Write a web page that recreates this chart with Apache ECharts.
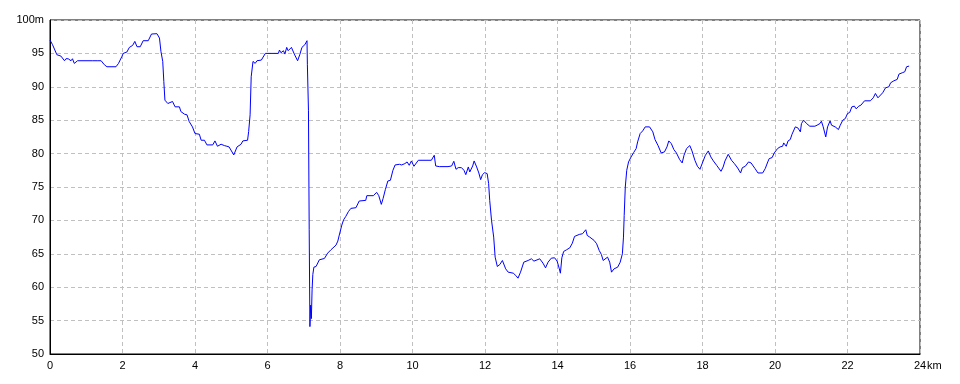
<!DOCTYPE html>
<html>
<head>
<meta charset="utf-8">
<script src="https://cdn.jsdelivr.net/npm/echarts@6/dist/echarts.min.js"></script>
<style>
html,body{margin:0;padding:0;background:#fff;}
#c{width:960px;height:384px;}
</style>
</head>
<body>
<div id="c"></div>
<script>
// distance (km)
var distKm = [
0,0.07,0.19,0.30,0.35,0.40,0.44,0.50,0.58,0.62,0.67,0.76,1.18,1.22,1.30,1.41,1.50,1.57,1.82,1.89,1.98,2.02,2.12,2.19,2.28,2.34,2.40,2.49,2.57,2.71,2.80,2.95,3.02,3.06,3.11,3.14,3.17,3.25,3.29,3.38,3.45,3.57,3.61,3.71,3.78,3.84,3.93,4.00,4.12,4.17,4.26,4.33,4.38,4.49,4.55,4.62,4.72,4.81,4.88,
4.94,5.07,5.16,5.27,5.32,5.45,5.48,5.52,5.55,5.60,5.66,5.71,5.83,5.94,6.30,6.33,6.37,6.44,6.48,6.53,6.57,6.66,6.74,6.83,6.89,6.95,7.03,7.09,7.10,7.13,7.15,7.17,7.19,7.21,7.23,7.25,7.28,7.34,7.43,7.57,7.66,7.75,7.89,7.94,7.98,8.05,8.10,8.16,8.23,8.30,8.44,8.53,8.71,8.74,8.92,9.01,9.07,9.14,9.19,9.25,9.32,9.39,9.46,9.52,9.64,9.70,
9.79,9.85,9.91,9.97,10.04,10.16,10.52,10.60,10.64,10.74,10.98,11.08,11.14,11.20,11.26,11.35,11.42,11.47,11.54,11.58,11.66,11.70,11.77,11.83,11.88,11.93,11.99,12.06,12.10,12.13,12.18,12.24,12.28,12.34,12.41,12.48,12.57,12.64,12.78,12.85,12.91,12.98,13.07,13.19,13.28,13.35,13.51,13.60,13.67,13.74,13.83,13.92,13.99,14.05,14.08,14.12,14.17,14.25,14.34,14.41,14.47,14.52,14.60,14.69,14.78,14.82,14.89,
14.92,15.01,15.08,15.15,15.21,15.26,15.31,15.38,15.44,15.49,15.56,15.66,15.73,15.79,15.82,15.84,15.87,15.91,15.96,16.03,16.10,16.17,16.21,16.28,16.35,16.42,16.54,16.63,16.69,16.77,16.86,16.95,17.02,17.07,17.14,17.21,17.28,17.37,17.44,17.49,17.56,17.65,17.71,17.79,17.86,17.93,17.99,18.08,18.16,18.23,18.30,18.39,18.51,18.57,18.62,18.71,18.80,18.88,18.97,19.05,19.10,19.18,19.27,19.34,19.45,19.53,19.66,19.73,
19.80,19.84,19.92,19.98,20.07,20.14,20.21,20.24,20.31,20.36,20.42,20.47,20.56,20.63,20.70,20.73,20.79,20.87,20.96,21.10,21.16,21.24,21.28,21.33,21.40,21.45,21.52,21.56,21.66,21.75,21.80,21.87,21.94,22.00,22.06,22.12,22.19,22.24,22.31,22.37,22.47,22.63,22.71,22.77,22.84,22.89,22.97,23.05,23.14,23.19,23.28,23.37,23.42,23.51,23.58,23.63,23.70
];
// elevation (m)
var elevM = [
97.0,96.3,94.8,94.6,94.6,93.9,94.2,94.2,93.9,94.2,93.5,93.9,93.9,94.1,93.9,93.9,93.3,93.0,93.0,93.5,94.5,95.0,95.2,95.9,96.2,96.8,96.0,96.0,96.9,96.9,97.9,97.95,97.3,95.3,93.8,90.8,88.0,87.5,87.3,87.8,87.0,87.0,86.3,85.9,85.8,84.8,84.0,83.0,82.9,82.0,82.0,81.3,81.1,81.3,81.9,81.1,81.4,81.2,81.1,
81.0,79.8,81.0,81.4,81.9,82.0,83.3,85.8,91.5,93.8,93.5,93.9,94.0,95.0,95.0,95.5,95.1,95.4,94.9,95.9,95.4,95.9,94.9,93.9,94.8,95.9,96.3,96.9,93.3,86.5,68.6,54.1,57.3,55.3,59.6,61.9,63.0,63.1,64.1,64.3,65.1,65.6,66.3,66.9,67.8,69.3,70.1,70.6,71.3,71.8,71.9,72.9,73.0,73.7,73.7,74.2,73.7,72.4,73.3,74.6,75.9,76.0,77.5,78.3,78.4,78.3,
78.5,78.75,78.25,78.9,78.1,79.0,79.0,79.75,78.15,78.05,78.05,78.15,78.85,77.65,77.9,77.9,77.5,76.85,78.0,77.25,78.15,78.9,78.0,77.1,76.1,76.85,77.15,77.0,75.5,73.0,70.0,67.5,64.5,63.1,63.4,64.0,62.75,62.25,62.1,61.75,61.35,62.25,63.75,64.0,64.25,63.9,64.25,63.6,62.9,63.75,64.35,64.4,63.9,62.75,62.1,64.4,65.35,65.6,65.9,66.6,67.6,67.5,67.9,68.0,68.6,67.75,67.5,
67.4,67.0,66.5,65.5,64.9,64.0,64.0,64.5,63.75,62.25,62.75,63.0,63.75,65.0,67.5,70.75,75.0,77.5,78.75,79.5,80.15,80.75,81.75,83.0,83.4,84.0,84.0,83.25,82.1,81.25,80.1,80.25,81.0,81.9,81.5,80.6,80.1,79.1,78.6,79.75,80.75,81.2,80.4,79.0,78.1,77.65,78.5,79.75,80.4,79.5,78.9,78.25,77.35,78.0,78.9,79.9,79.0,78.5,77.85,77.1,77.9,78.1,78.75,78.6,77.75,77.1,77.1,77.75,
78.75,79.25,79.4,80.1,80.75,81.0,81.1,81.6,81.1,81.9,82.1,82.9,84.0,83.85,83.25,84.5,85.0,84.5,84.1,84.1,84.25,84.5,84.85,84.0,82.5,84.0,84.9,84.25,84.0,83.6,84.25,85.0,85.25,86.0,86.15,87.0,87.1,86.7,87.1,87.25,87.9,87.9,88.35,89.0,88.35,88.25,89.1,89.85,90.0,90.6,90.9,91.1,91.9,92.1,92.25,93.0,93.1
];
var xTicks = {min: 0, max: 24, step: 2, unit: 'km'};
var yTicks = {min: 50, max: 100, step: 5, unit: 'm'};

var pts = distKm.map(function (d, i) { return [d, elevM[i]]; });
var font = '"Liberation Sans", Arial, sans-serif';
var chart = echarts.init(document.getElementById('c'), null, {renderer: 'canvas'});
chart.setOption({
  animation: false,
  backgroundColor: '#ffffff',
  grid: {left: 50, right: 40, top: 20, bottom: 30, show: true, borderColor: '#000', borderWidth: 1, backgroundColor: 'transparent'},
  xAxis: {
    type: 'value', min: xTicks.min, max: xTicks.max, interval: xTicks.step,
    name: xTicks.unit, nameLocation: 'end', nameGap: 7, nameMoveOverlap: false,
    nameTextStyle: {color: '#000', fontSize: 11, fontFamily: font, align: 'left', verticalAlign: 'top', padding: [6, 0, 0, 0]},
    axisLine: {show: true, lineStyle: {color: '#000', width: 1}},
    axisTick: {show: false},
    axisLabel: {color: '#000', fontSize: 11, fontFamily: font, margin: 6},
    splitLine: {show: true, lineStyle: {color: '#c0c0c0', type: [4, 3], width: 1}}
  },
  yAxis: {
    type: 'value', min: yTicks.min, max: yTicks.max, interval: yTicks.step,
    axisLine: {show: true, lineStyle: {color: '#000', width: 1}},
    axisTick: {show: false},
    axisLabel: {color: '#000', fontSize: 11, fontFamily: font, margin: 6,
      formatter: function (v) { return v === yTicks.max ? v + yTicks.unit : String(v); }},
    splitLine: {show: true, lineStyle: {color: '#c0c0c0', type: [4, 3], width: 1}}
  },
  series: [{
    type: 'line', data: pts, showSymbol: false, symbol: 'none',
    lineStyle: {color: '#0000ff', width: 1}, silent: true
  }]
});
</script>
</body>
</html>
